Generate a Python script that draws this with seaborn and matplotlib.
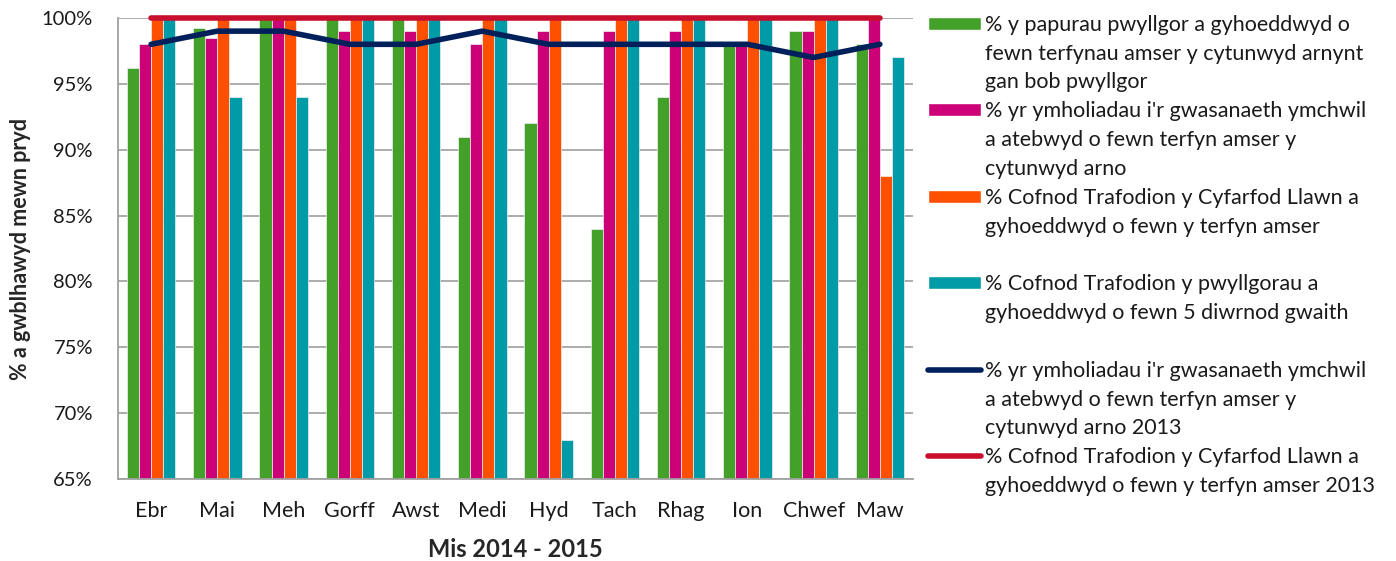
import pandas as pd
import seaborn as sns
import matplotlib.pyplot as plt
import numpy as np
from matplotlib.patches import Patch
from matplotlib.lines import Line2D

# Data
months = ["Ebr", "Mai", "Meh", "Gorff", "Awst", "Medi", "Hyd", "Tach", "Rhag", "Ion", "Chwef", "Maw"]
papurau = [96.2, 99.2, 100, 100, 100, 91, 92, 84, 94, 98, 99, 98]
ymholiadau = [98, 98.5, 100, 99, 99, 98, 99, 99, 99, 98, 99, 100]
cofnod_llawn = [100, 100, 100, 100, 100, 100, 100, 100, 100, 100, 100, 88]
cofnod_pwyllgor = [100, 94, 94, 100, 100, 100, 68, 100, 100, 100, 100, 97]
ymholiadau_2013 = [98, 99, 99, 98, 98, 99, 98, 98, 98, 98, 97, 98]
cofnod_llawn_2013 = [100] * 12

bar_labels = [
    "% y papurau pwyllgor a gyhoeddwyd o\nfewn terfynau amser y cytunwyd arnynt\ngan bob pwyllgor",
    "% yr ymholiadau i'r gwasanaeth ymchwil\na atebwyd o fewn terfyn amser y\ncytunwyd arno",
    "% Cofnod Trafodion y Cyfarfod Llawn a\ngyhoeddwyd o fewn y terfyn amser\n",
    "% Cofnod Trafodion y pwyllgorau a\ngyhoeddwyd o fewn 5 diwrnod gwaith\n",
]
line_labels = [
    "% yr ymholiadau i'r gwasanaeth ymchwil\na atebwyd o fewn terfyn amser y\ncytunwyd arno 2013",
    "% Cofnod Trafodion y Cyfarfod Llawn a\ngyhoeddwyd o fewn y terfyn amser 2013",
]

bar_colors = ["#43A12A", "#CC0077", "#FF5000", "#009BA6"]
line_colors = ["#00205B", "#C8102E"]

df = pd.DataFrame({"Mis": months * 4,
                   "series": sum([[l] * 12 for l in bar_labels], []),
                   "value": papurau + ymholiadau + cofnod_llawn + cofnod_pwyllgor})

sns.set_style("white")
plt.rcParams['font.family'] = ['Lato', 'DejaVu Sans']
plt.rcParams['text.color'] = '#1a1a1a'

fig = plt.figure(figsize=(13.96, 5.61), dpi=100)
ax = fig.add_axes([0.0845, 0.146, 0.5695, 0.822])

sns.barplot(data=df, x="Mis", y="value", hue="series", palette=bar_colors, saturation=1,
            width=0.73, edgecolor="#f0f0f0", linewidth=0.5, ax=ax, legend=False, zorder=2)

for vals, col in zip([ymholiadau_2013, cofnod_llawn_2013], line_colors):
    sns.pointplot(x=months, y=vals, color=col, markers="", linewidth=4,
                  errorbar=None, ax=ax)
for ln in ax.lines:
    ln.set_clip_on(False)
    ln.set_zorder(4)
    ln.set_solid_capstyle("round")

ax.set_ylim(65, 100)
ax.set_xlim(-0.5, 11.5)
ax.set_yticks(np.arange(65, 101, 5))
ax.set_yticklabels([f"{v}%" for v in range(65, 101, 5)])
ax.yaxis.grid(True, color="#A6A6A6", linewidth=1.3, zorder=0)
ax.set_axisbelow(True)
for s in ["top", "right"]:
    ax.spines[s].set_visible(False)
for s in ["left", "bottom"]:
    ax.spines[s].set_color("#A0A0A0")
    ax.spines[s].set_linewidth(1.3)

ax.set_xticks(np.arange(-0.5, 12, 1), minor=True)
ax.tick_params(axis="x", which="major", length=0, labelsize=15.5, pad=16, colors="#1a1a1a")
ax.tick_params(axis="x", which="minor", length=7, width=1.3, color="#A0A0A0")
ax.tick_params(axis="y", length=6, width=1.3, color="#A0A0A0", labelsize=14.5,
               labelcolor="#1a1a1a", pad=12)

ax.set_xlabel("Mis 2014 - 2015", fontsize=17, fontweight="bold", labelpad=12)
ax.set_ylabel("% a gwblhawyd mewn pryd", fontsize=15.5, fontweight="bold", labelpad=8)

# legend: one row per text line so that each swatch sits beside the first line
handles, labels = [], []
for lab, col in zip(bar_labels, bar_colors):
    for i, part in enumerate(lab.split("\n")):
        handles.append(Patch(facecolor=col) if i == 0 else Patch(facecolor="none", edgecolor="none"))
        labels.append(part)
for lab, col in zip(line_labels, line_colors):
    for i, part in enumerate(lab.split("\n")):
        handles.append(Line2D([], [], color=col, linewidth=4, solid_capstyle="round") if i == 0
                       else Line2D([], [], color="none"))
        labels.append(part)

fig.legend(handles, labels, loc="upper left", bbox_to_anchor=(0.6585, 0.989),
           frameon=False, fontsize=15.5, handlelength=2.45, handleheight=0.55,
           handletextpad=0.22, labelspacing=0.41, borderaxespad=0)

fig.savefig("out.png", dpi=100)
